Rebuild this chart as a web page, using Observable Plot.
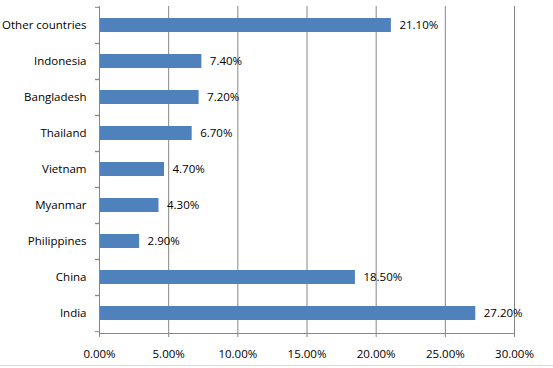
<!DOCTYPE html>
<html>
<head>
<meta charset="utf-8">
<script src="https://cdn.jsdelivr.net/npm/d3@7"></script>
<script src="https://cdn.jsdelivr.net/npm/@observablehq/plot@0.6"></script>
<style>
  body { margin: 0; background: #fff; }
  #chart { width: 553px; }
  #chart svg { display: block; }
  .edge { width: 553px; height: 0; border-top: 1px solid #d9d9d9; }
</style>
</head>
<body>
<div id="chart"></div>
<div class="edge"></div>
<script>
const countries = ["Other countries", "Indonesia", "Bangladesh", "Thailand", "Vietnam", "Myanmar", "Philippines", "China", "India"];
const shares = [0.211, 0.074, 0.072, 0.067, 0.047, 0.043, 0.029, 0.185, 0.272];
const xTicks = [0, 0.05, 0.10, 0.15, 0.20, 0.25, 0.30];

const data = countries.map((c, i) => ({country: c, share: shares[i]}));

const W = 553, H = 365, mT = 6, mB = 32, mL = 99, mR = 39;
const step = (H - mT - mB) / countries.length;
const fmt = d3.format(".2%");
const grid = "#868686";

const chart = Plot.plot({
  width: W,
  height: H,
  marginTop: mT,
  marginBottom: mB,
  marginLeft: mL,
  marginRight: mR,
  style: {fontFamily: "'Open Sans', 'Liberation Sans', sans-serif", fontSize: "11.5px", color: "#000", background: "#fff"},
  x: {domain: [0, 0.30], ticks: xTicks},
  y: {domain: countries, paddingInner: 0.6, paddingOuter: 0.3},
  marks: [
    Plot.ruleX(xTicks.slice(1), {stroke: grid, strokeWidth: 1, strokeOpacity: 1}),
    Plot.barX(data, {y: "country", x: "share", fill: "#4F81BD"}),
    Plot.text(data, {y: "country", x: "share", text: d => fmt(d.share), textAnchor: "start", dx: 8, fill: "#000", fontSize: 11.5}),
    Plot.ruleX([0], {stroke: grid, strokeOpacity: 1}),
    Plot.frame({anchor: "bottom", stroke: grid, strokeOpacity: 1}),
    Plot.axisX({ticks: xTicks, tickFormat: fmt, tickSize: 4, tickPadding: 12, stroke: grid, strokeOpacity: 1, fill: "#000", label: null}),
    Plot.axisY({tickSize: 0, tickPadding: 13, fill: "#000", label: null}),
    Plot.axisY({tickSize: 4, dy: -step / 2, text: null, stroke: grid, strokeOpacity: 1, label: null}),
    Plot.axisY({tickSize: 4, dy: step / 2, text: null, stroke: grid, strokeOpacity: 1, label: null})
  ]
});
document.getElementById("chart").append(chart);
</script>
</body>
</html>
